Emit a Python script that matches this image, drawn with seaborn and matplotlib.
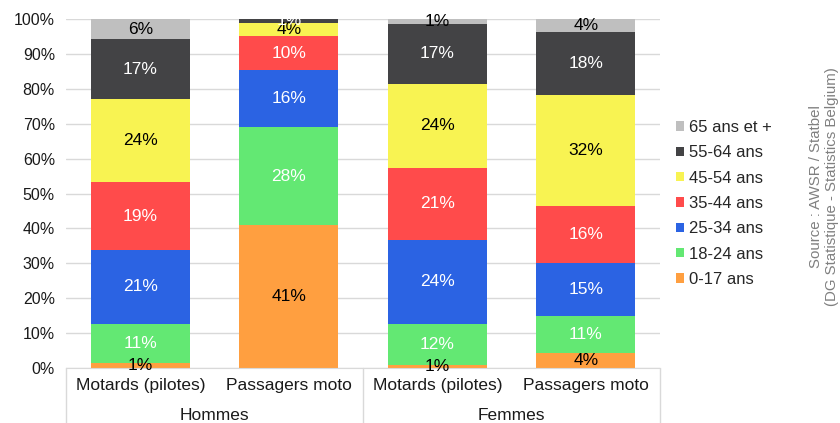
import seaborn as sns
import matplotlib.pyplot as plt
import matplotlib.transforms as mtransforms
from matplotlib.patches import Patch
import pandas as pd
import numpy as np

# Data (percent share of each age group, per bar)
bars = ["H_mot", "H_pas", "F_mot", "F_pas"]
bar_labels = ["Motards (pilotes)", "Passagers moto", "Motards (pilotes)", "Passagers moto"]
groups = ["Hommes", "Femmes"]
age_groups = ["0-17 ans", "18-24 ans", "25-34 ans", "35-44 ans", "45-54 ans", "55-64 ans", "65 ans et +"]
shares = {
    "0-17 ans":    [1.4, 41.0, 0.8, 4.2],
    "18-24 ans":   [11.2, 28.0, 11.8, 10.6],
    "25-34 ans":   [21.3, 16.3, 24.1, 15.3],
    "35-44 ans":   [19.3, 9.8, 20.6, 16.3],
    "45-54 ans":   [23.8, 3.9, 24.1, 31.9],
    "55-64 ans":   [17.2, 1.0, 17.2, 18.0],
    "65 ans et +": [5.8, 0.0, 1.4, 3.7],
}
colors = ["#FF9F40", "#63E873", "#2B63E3", "#FF4B4B", "#F8F352", "#434345", "#BFBFBF"]
label_colors = ["black", "white", "white", "white", "black", "white", "black"]

sns.set_style("white")
plt.rcParams["font.family"] = ["Liberation Sans", "DejaVu Sans"]

fig = plt.figure(figsize=(8.4, 4.23), dpi=100)
ax = fig.add_axes([0.0786, 0.130, 0.7071, 0.825])

# cumulative sums, drawn from the top segment down so each covers the one below
cum = np.cumsum(np.array([shares[a] for a in age_groups]), axis=0)
for i in range(len(age_groups) - 1, -1, -1):
    df = pd.DataFrame({"bar": bars, "value": cum[i]})
    sns.barplot(data=df, x="bar", y="value", order=bars, color=colors[i],
                width=0.667, saturation=1, linewidth=0, ax=ax, zorder=2)

# segment labels
for i, a in enumerate(age_groups):
    for j in range(len(bars)):
        v = shares[a][j]
        if v <= 0:
            continue
        mid = cum[i][j] - v / 2
        ax.text(j, mid, f"{round(v):.0f}%", ha="center", va="center",
                fontsize=12.5, color=label_colors[i], zorder=3)

ax.set_xlim(-0.5, 3.5)
ax.set_ylim(0, 100)
ax.set_yticks(np.arange(0, 101, 10))
ax.set_yticklabels([f"{t}%" for t in range(0, 101, 10)], fontsize=11.5, color="#1a1a1a")
ax.yaxis.grid(True, color="#D9D9D9", linewidth=1, zorder=0)
ax.set_axisbelow(True)
for s in ["left", "right", "top"]:
    ax.spines[s].set_visible(False)
ax.spines["bottom"].set_color("#D9D9D9")
ax.tick_params(axis="y", length=0, pad=8)
ax.tick_params(axis="x", length=0, pad=7)
ax.set_xticks(range(len(bars)))
ax.set_xticklabels(bar_labels, fontsize=12.5, color="#1a1a1a")
ax.set_xlabel("")
ax.set_ylabel("")

# group labels and separators below the axis
trans = mtransforms.blended_transform_factory(ax.transData, ax.transAxes)
for k, g in enumerate(groups):
    ax.text(2 * k + 0.5, -0.135, g, transform=trans, ha="center", va="center",
            fontsize=12.5, color="#1a1a1a")
for xs in [-0.5, 1.5, 3.5]:
    ax.plot([xs, xs], [0, -0.16], transform=trans, color="#D9D9D9",
            linewidth=1, clip_on=False)

# legend (reversed order)
handles = [Patch(facecolor=colors[i], edgecolor="none", label=age_groups[i])
           for i in range(len(age_groups) - 1, -1, -1)]
fig.legend(handles=handles, loc="center left", bbox_to_anchor=(0.787, 0.519),
           frameon=False, fontsize=12, handlelength=0.5, handleheight=0.5,
           handletextpad=0.3, labelspacing=0.62)

fig.text(0.981, 0.56, "Source : AWSR / Statbel\n(DG Statistique - Statistics Belgium)",
         rotation=90, ha="center", va="center", multialignment="center",
         fontsize=10.8, color="#808080")

plt.savefig("out.png", dpi=100)
